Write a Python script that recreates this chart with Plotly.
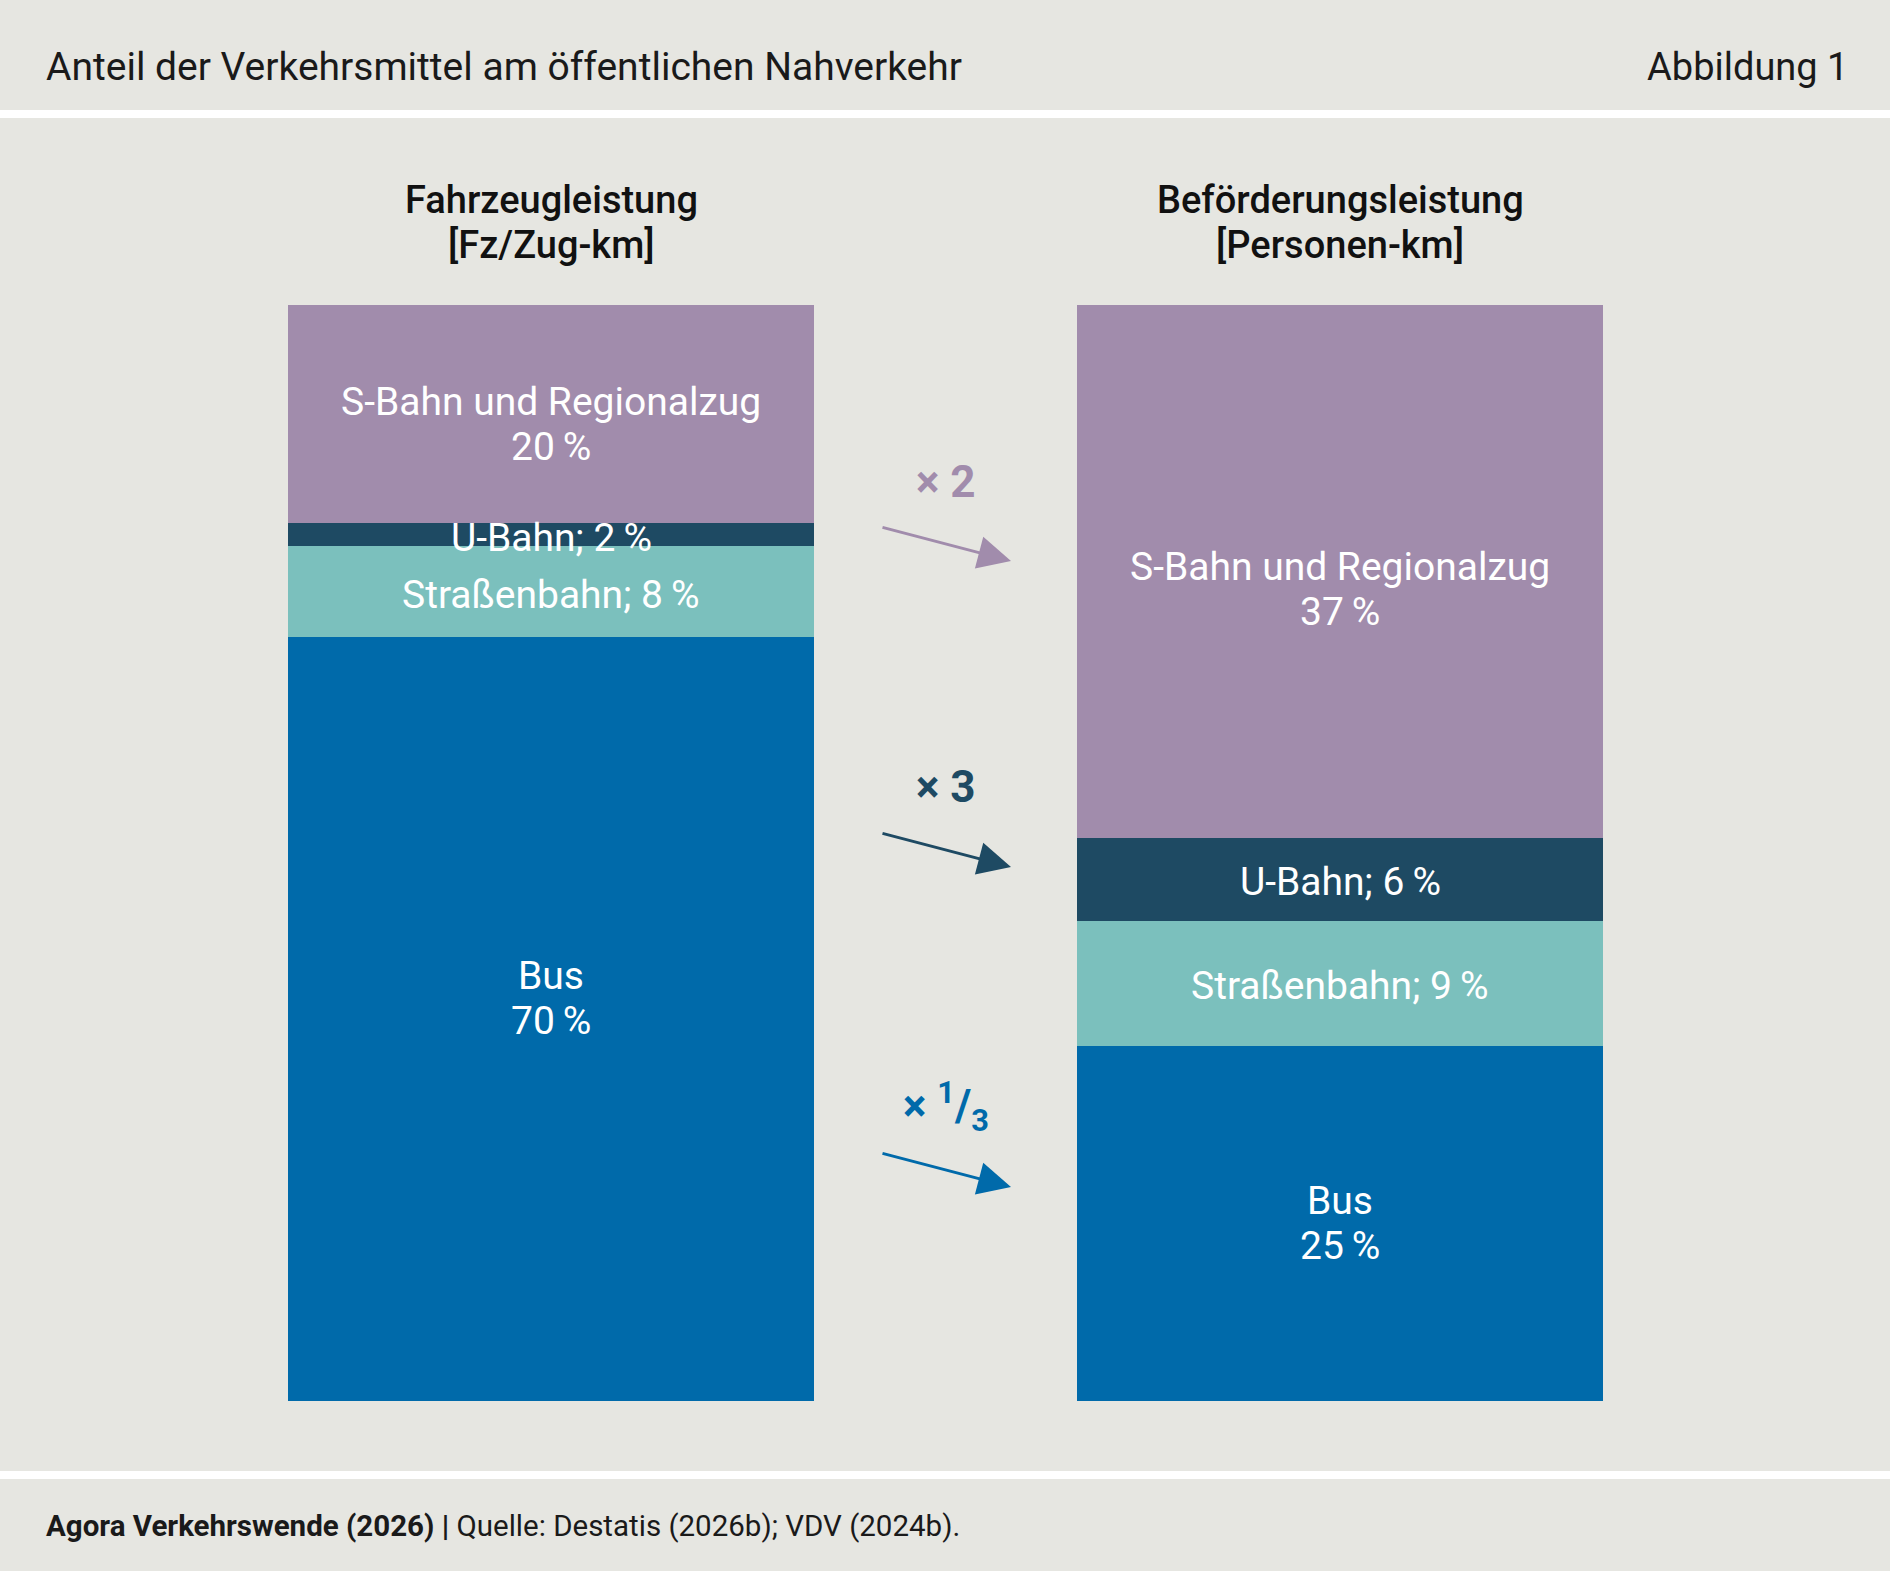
import plotly.graph_objects as go

# ---------------- data ----------------
columns = ["Fahrzeugleistung<br>[Fz/Zug-km]", "Beförderungsleistung<br>[Personen-km]"]
modes = ["Bus", "Straßenbahn", "U-Bahn", "S-Bahn und Regionalzug"]  # bottom -> top
fahrzeug = [69.7, 8.3, 2.1, 19.9]        # share of vehicle-km, %
befoerderung = [24.9, 8.8, 5.8, 37.4]    # share of passenger-km, %
multipliers = ["× 1/3", "× 3", "× 2"]  # Bus, U-Bahn, S-Bahn
title = "Anteil der Verkehrsmittel am öffentlichen Nahverkehr"
fig_no = "Abbildung 1"
source_bold = "Agora Verkehrswende (2026) |"
source = "Quelle: Destatis (2026b); VDV (2024b)."

# ---------------- style ----------------
W, H = 1890, 1571
BG = "#E6E6E1"
colors = {"Bus": "#006AAA", "Straßenbahn": "#7BC0BD", "U-Bahn": "#1E4A63",
          "S-Bahn und Regionalzug": "#A18CAC"}
FONT = "Roboto"
TXT = "#1A1A1A"

def px(x):
    return x / W

def py(y):
    return 1 - y / H

fig = go.Figure()
series = [fahrzeug, befoerderung]
for i, m in enumerate(modes):
    fig.add_trace(go.Bar(
        x=[0, 1], y=[series[0][i], series[1][i]], name=m,
        marker=dict(color=colors[m], line=dict(width=0)),
        width=0.667, textposition="none", hoverinfo="skip", showlegend=False))

annotations = []
# segment labels, placed at the middle of each normalised segment
two_line = {"Bus", "S-Bahn und Regionalzug"}
yshift = {(0, "Bus"): 21, (1, "S-Bahn und Regionalzug"): -18,
          (0, "S-Bahn und Regionalzug"): -10, (1, "Bus"): 0}
LINE = 45
for c, vals in enumerate(series):
    total = sum(vals)
    cum = 0
    for m, v in zip(modes, vals):
        share = v / total * 100
        mid = cum + share / 2
        cum += share
        pct = f"{round(v)}\u2009%"
        base = yshift.get((c, m), -3)
        lines = [m, pct] if m in two_line else [f"{m}; {pct}"]
        n = len(lines)
        for k, ln in enumerate(lines):
            off = ((n - 1) / 2 - k) * LINE
            annotations.append(dict(
                x=c, y=mid, xref="x", yref="y", text=ln, showarrow=False,
                font=dict(family=FONT, size=39, color="white"),
                xanchor="center", yanchor="middle", yshift=base + off))

# column titles
for c, t in enumerate(columns):
    for k, ln in enumerate(t.split("<br>")):
        annotations.append(dict(
            x=c, y=py(200 + 45 * k), xref="x", yref="paper", text=ln, showarrow=False,
            font=dict(family=FONT, size=38, color="#111111", weight=500),
            xanchor="center", yanchor="middle"))

# multiplier annotations with arrows
arrows = [  # (text y, arrow tip y, colour key)
    (1106, 1187, "Bus"),
    (787, 867, "U-Bahn"),
    (482, 561, "S-Bahn und Regionalzug"),
]
for lab, (ty, tip, key) in zip(multipliers, arrows):
    txt = lab
    if "/" in lab:
        a, b = lab.split(" ", 1)[1].split("/")
        txt = f"× <sup>{a}</sup>/<sub>{b}</sub>"
    annotations.append(dict(
        x=px(946), y=py(ty), xref="paper", yref="paper", text=f"<b>{txt}</b>",
        showarrow=False, font=dict(family=FONT, size=44, color=colors[key]),
        xanchor="center", yanchor="middle"))
    annotations.append(dict(
        x=px(1011), y=py(tip), xref="paper", yref="paper", text="",
        showarrow=True, ax=-130, ay=-34, axref="pixel", ayref="pixel",
        arrowhead=2, arrowsize=2.2, arrowwidth=3, arrowcolor=colors[key],
        standoff=0))

# header & footer texts
annotations.append(dict(x=px(44), y=py(67), xref="paper", yref="paper", text=title,
                        showarrow=False, xanchor="left", yanchor="middle",
                        font=dict(family=FONT, size=39, color=TXT)))
annotations.append(dict(x=px(1850), y=py(67), xref="paper", yref="paper", text=fig_no,
                        showarrow=False, xanchor="right", yanchor="middle",
                        font=dict(family=FONT, size=38, color=TXT)))
annotations.append(dict(x=px(44), y=py(1526), xref="paper", yref="paper",
                        text=f"<b>{source_bold}</b> {source}",
                        showarrow=False, xanchor="left", yanchor="middle",
                        font=dict(family=FONT, size=29.5, color=TXT)))

shapes = [
    dict(type="rect", xref="paper", yref="paper", x0=0, x1=1, y0=py(118), y1=py(110),
         fillcolor="white", line=dict(width=0), layer="above"),
    dict(type="rect", xref="paper", yref="paper", x0=0, x1=1, y0=py(1479), y1=py(1471),
         fillcolor="white", line=dict(width=0), layer="above"),
]

x_center0, unit = 551, 789
fig.update_layout(
    width=W, height=H, margin=dict(l=0, r=0, t=0, b=0),
    paper_bgcolor=BG, plot_bgcolor=BG,
    barmode="stack", barnorm="percent", bargap=0,
    xaxis=dict(range=[-x_center0 / unit, (W - x_center0) / unit], visible=False,
               domain=[0, 1], fixedrange=True),
    yaxis=dict(range=[0, 100], visible=False, domain=[py(1401), py(305)],
               fixedrange=True),
    annotations=annotations, shapes=shapes,
    font=dict(family=FONT),
)

fig.write_html("out.html")
